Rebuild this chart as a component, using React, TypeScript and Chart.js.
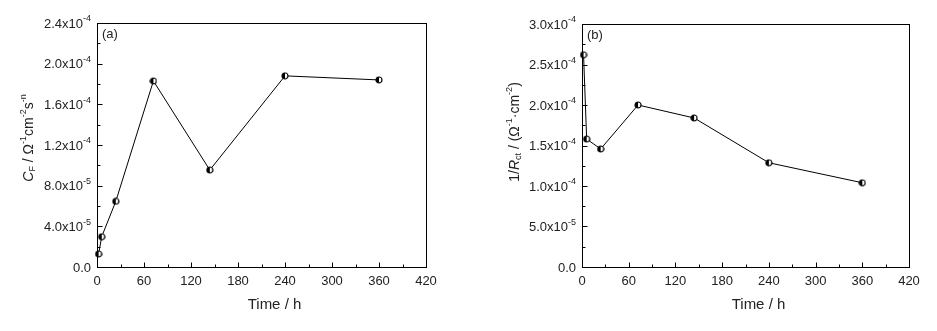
import React, { useEffect, useRef } from 'react';
import { Chart, registerables } from 'chart.js';
Chart.register(...registerables);

// ---------- data ----------
const timesA = [2, 6, 24, 72, 144, 240, 360];
const cfValues = [1.28e-5, 2.98e-5, 6.46e-5, 1.83e-4, 9.54e-5, 1.88e-4, 1.84e-4];

const timesB = [2, 6, 24, 72, 144, 240, 360];
const invRctValues = [2.62e-4, 1.58e-4, 1.457e-4, 2.0e-4, 1.84e-4, 1.287e-4, 1.04e-4];

const xTicks = [0, 60, 120, 180, 240, 300, 360, 420];
const xTickLabels = ['0', '60', '120', '180', '240', '300', '360', '420'];

const yTicksA = [0, 4e-5, 8e-5, 1.2e-4, 1.6e-4, 2.0e-4, 2.4e-4];
const yTickMantA = ['0.0', '4.0x10', '8.0x10', '1.2x10', '1.6x10', '2.0x10', '2.4x10'];
const yTickExpA = ['', '-5', '-5', '-4', '-4', '-4', '-4'];

const yTicksB = [0, 5e-5, 1e-4, 1.5e-4, 2e-4, 2.5e-4, 3e-4];
const yTickMantB = ['0.0', '5.0x10', '1.0x10', '1.5x10', '2.0x10', '2.5x10', '3.0x10'];
const yTickExpB = ['', '-5', '-4', '-4', '-4', '-4', '-4'];

// title pieces: [text, kind] kind: n normal, i italic, sub, sup
const yTitleA: [string, string][] = [['C', 'i'], ['F', 'sub'], [' / Ω', 'n'], ['-1', 'sup'], ['cm', 'n'], ['-2', 'sup'], ['s', 'n'], ['-n', 'sup']];
const yTitleB: [string, string][] = [['1/', 'n'], ['R', 'i'], ['ct', 'sub'], [' / (Ω', 'n'], ['-1', 'sup'], ['·cm', 'n'], ['-2', 'sup'], [')', 'n']];

const FONT = '"Liberation Sans", Arial, sans-serif';
const TICK_COLOR = '#222';

function makeMarker(): HTMLCanvasElement {
  const c = document.createElement('canvas');
  c.width = 8;
  c.height = 8;
  const g = c.getContext('2d')!;
  g.beginPath();
  g.arc(4, 4, 3, 0, Math.PI * 2);
  g.fillStyle = '#fff';
  g.fill();
  g.beginPath();
  g.moveTo(4, 4);
  g.arc(4, 4, 3, Math.PI / 2, (Math.PI * 3) / 2);
  g.closePath();
  g.fillStyle = '#000';
  g.fill();
  g.beginPath();
  g.arc(4, 4, 3, 0, Math.PI * 2);
  g.lineWidth = 1.2;
  g.strokeStyle = '#000';
  g.stroke();
  return c;
}

type PanelCfg = {
  xs: number[];
  ys: number[];
  yTicks: number[];
  yMant: string[];
  yExp: string[];
  yMax: number;
  title: [string, string][];
  panel: string;
  padding: { left: number; right: number; top: number; bottom: number };
  titleX: number;
  titleY: number;
  width: number;
};

function fontFor(kind: string) {
  if (kind === 'i') return `italic 14px ${FONT}`;
  if (kind === 'sub' || kind === 'sup') return `9px ${FONT}`;
  return `14px ${FONT}`;
}

function makePlugin(cfg: PanelCfg) {
  return {
    id: 'decor',
    afterDraw(chart: any) {
      const ctx = chart.ctx as CanvasRenderingContext2D;
      const ca = chart.chartArea;
      const xs = chart.scales.x;
      const ys = chart.scales.y;
      ctx.save();
      ctx.strokeStyle = '#000';
      ctx.lineWidth = 1;
      // box
      ctx.strokeRect(Math.round(ca.left) + 0.5, Math.round(ca.top) + 0.5, Math.round(ca.right - ca.left), Math.round(ca.bottom - ca.top));
      const bottom = Math.round(ca.bottom) + 0.5;
      const left = Math.round(ca.left) + 0.5;
      // x ticks
      ctx.beginPath();
      for (let i = 0; i < xTicks.length; i++) {
        const px = Math.round(xs.getPixelForValue(xTicks[i])) + 0.5;
        ctx.moveTo(px, bottom);
        ctx.lineTo(px, bottom - 5);
        if (i < xTicks.length - 1) {
          const mx = Math.round(xs.getPixelForValue((xTicks[i] + xTicks[i + 1]) / 2)) + 0.5;
          ctx.moveTo(mx, bottom);
          ctx.lineTo(mx, bottom - 3);
        }
      }
      // y ticks
      for (let i = 0; i < cfg.yTicks.length; i++) {
        const py = Math.round(ys.getPixelForValue(cfg.yTicks[i])) + 0.5;
        ctx.moveTo(left, py);
        ctx.lineTo(left + 5, py);
        if (i < cfg.yTicks.length - 1) {
          const my = Math.round(ys.getPixelForValue((cfg.yTicks[i] + cfg.yTicks[i + 1]) / 2)) + 0.5;
          ctx.moveTo(left, my);
          ctx.lineTo(left + 3, my);
        }
      }
      ctx.stroke();

      // x tick labels
      ctx.fillStyle = TICK_COLOR;
      ctx.font = `13px ${FONT}`;
      ctx.textAlign = 'center';
      ctx.textBaseline = 'middle';
      for (let i = 0; i < xTicks.length; i++) {
        ctx.fillText(xTickLabels[i], xs.getPixelForValue(xTicks[i]), ca.bottom + 14);
      }
      // y tick labels
      ctx.textAlign = 'left';
      for (let i = 0; i < cfg.yTicks.length; i++) {
        const py = ys.getPixelForValue(cfg.yTicks[i]);
        ctx.font = `13px ${FONT}`;
        const wm = ctx.measureText(cfg.yMant[i]).width;
        ctx.font = `9px ${FONT}`;
        const we = cfg.yExp[i] ? ctx.measureText(cfg.yExp[i]).width : 0;
        const x0 = ca.left - 6 - wm - we;
        ctx.font = `13px ${FONT}`;
        ctx.fillText(cfg.yMant[i], x0, py + 1);
        if (cfg.yExp[i]) {
          ctx.font = `9px ${FONT}`;
          ctx.fillText(cfg.yExp[i], x0 + wm, py - 4);
        }
      }

      // x title
      ctx.fillStyle = '#222';
      ctx.font = `15px ${FONT}`;
      ctx.textAlign = 'center';
      ctx.fillText('Time / h', (ca.left + ca.right) / 2 + 13, ca.bottom + 38);

      // panel label
      ctx.font = `13px ${FONT}`;
      ctx.textAlign = 'left';
      ctx.fillText(cfg.panel, ca.left + 5, ca.top + 11);

      // y title (rotated)
      ctx.save();
      ctx.translate(cfg.titleX, cfg.titleY);
      ctx.rotate(-Math.PI / 2);
      let total = 0;
      for (const [t, k] of cfg.title) {
        ctx.font = fontFor(k);
        total += ctx.measureText(t).width;
      }
      let x = -total / 2;
      ctx.textAlign = 'left';
      ctx.textBaseline = 'middle';
      for (const [t, k] of cfg.title) {
        ctx.font = fontFor(k);
        const dy = k === 'sub' ? 4 : k === 'sup' ? -5 : 0;
        ctx.fillText(t, x, dy);
        x += ctx.measureText(t).width;
      }
      ctx.restore();
      ctx.restore();
    },
  };
}

function Panel({ cfg, left }: { cfg: PanelCfg; left: number }) {
  const ref = useRef<HTMLCanvasElement>(null);
  useEffect(() => {
    const marker = makeMarker();
    const chart = new Chart(ref.current!, {
      type: 'line',
      data: {
        datasets: [
          {
            data: cfg.xs.map((x, i) => ({ x, y: cfg.ys[i] })),
            borderColor: '#000',
            borderWidth: 1,
            pointStyle: marker as any,
            pointRadius: 4,
            clip: false as any,
            tension: 0,
          },
        ],
      },
      options: {
        responsive: false,
        animation: false,
        layout: { padding: cfg.padding },
        plugins: { legend: { display: false }, tooltip: { enabled: false } },
        scales: {
          x: { type: 'linear', min: 0, max: 420, display: false },
          y: { type: 'linear', min: 0, max: cfg.yMax, display: false },
        },
      },
      plugins: [makePlugin(cfg)],
    });
    return () => chart.destroy();
  }, [cfg]);
  return (
    <canvas
      ref={ref}
      width={cfg.width}
      height={331}
      style={{ position: 'absolute', left, top: 0, width: cfg.width, height: 331 }}
    />
  );
}

const cfgA: PanelCfg = {
  xs: timesA,
  ys: cfValues,
  yTicks: yTicksA,
  yMant: yTickMantA,
  yExp: yTickExpA,
  yMax: 2.4e-4,
  title: yTitleA,
  panel: '(a)',
  padding: { left: 97, right: 42, top: 23, bottom: 64 },
  titleX: 29,
  titleY: 138,
  width: 468,
};

const cfgB: PanelCfg = {
  xs: timesB,
  ys: invRctValues,
  yTicks: yTicksB,
  yMant: yTickMantB,
  yExp: yTickExpB,
  yMax: 3e-4,
  title: yTitleB,
  panel: '(b)',
  padding: { left: 114, right: 28, top: 24, bottom: 64 },
  titleX: 47,
  titleY: 132,
  width: 469,
};

export default function App() {
  return (
    <div style={{ position: 'absolute', left: 0, top: 0, width: 937, height: 331, background: '#fff' }}>
      <Panel cfg={cfgA} left={0} />
      <Panel cfg={cfgB} left={468} />
    </div>
  );
}
